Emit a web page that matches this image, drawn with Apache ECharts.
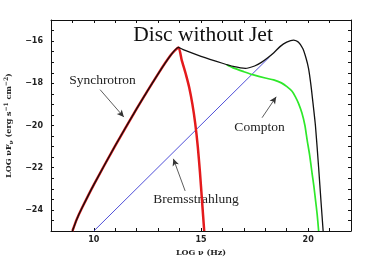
<!DOCTYPE html>
<html>
<head>
<meta charset="utf-8">
<script src="https://cdn.jsdelivr.net/npm/echarts@6/dist/echarts.min.js"></script>
<style>html,body{margin:0;padding:0;background:#fff;}#c{width:374px;height:263px;}</style>
</head>
<body>
<div id="c"></div>
<script>
// ---- data ----
const xTickLabels = [10, 15, 20];
const yTickLabels = [-16, -18, -20, -22, -24];

const syncX = [9.0, 9.2, 9.45, 10.0, 11.0, 12.0, 13.0, 13.6, 13.95, 14.1, 14.3, 14.45, 14.6, 14.73, 14.85, 14.95, 15.05, 15.15];
const syncY = [-25.0, -24.45, -23.9, -22.8, -20.95, -19.2, -17.55, -16.65, -16.3, -16.9, -17.6, -18.2, -19.0, -19.9, -21.0, -22.2, -23.6, -25.0];

const totalX = [9.0, 9.2, 9.45, 10.0, 11.0, 12.0, 13.0, 13.6, 13.95, 14.2, 15.0, 16.0, 16.5, 17.07, 17.5, 17.8, 18.1, 18.4, 18.7, 19.0, 19.32, 19.55, 19.75, 19.9, 20.02, 20.12, 20.2, 20.34, 20.49, 20.6, 20.7];
const totalY = [-25.0, -24.45, -23.9, -22.8, -20.95, -19.2, -17.55, -16.65, -16.3, -16.42, -16.72, -17.05, -17.2, -17.29, -17.18, -17.02, -16.8, -16.55, -16.25, -16.05, -15.95, -16.05, -16.35, -16.8, -17.3, -18.0, -18.7, -20.0, -22.0, -23.6, -25.0];

const comptonX = [16.2, 16.5, 17.0, 17.45, 18.0, 18.39, 18.75, 19.01, 19.25, 19.4, 19.55, 19.71, 19.85, 19.95, 20.07, 20.18, 20.27, 20.34, 20.42, 20.49];
const comptonY = [-17.12, -17.27, -17.45, -17.6, -17.75, -17.84, -17.98, -18.16, -18.38, -18.63, -18.95, -19.41, -20.0, -20.67, -21.4, -22.24, -22.9, -23.5, -24.2, -25.0];

const bremX = [10.0, 18.2];
const bremY = [-25.0, -16.75];

// annotation arrows (data coordinates: [fromX, fromY, toX, toY])
const arrowSync = [10.29, -18.3, 11.4, -19.6];
const arrowCompton = [17.85, -19.63, 18.51, -18.64];
const arrowBrems = [14.26, -23.1, 13.71, -21.58];

const pairs = (xs, ys) => xs.map((x, i) => [x, ys[i]]);
const arrowLine = a => [{coord: [a[0], a[1]]}, {coord: [a[2], a[3]]}];

const chart = echarts.init(document.getElementById('c'), null, {renderer: 'canvas'});

const tickFont = {fontFamily: 'DejaVu Sans', fontWeight: 'bold', fontSize: 8, color: '#222'};
const serif = 'Liberation Serif';

const xBase = {
  type: 'value', min: 8, max: 22, interval: 1,
  axisLine: {show: true, onZero: false, lineStyle: {color: '#111', width: 1}},
  axisTick: {show: true, inside: true, length: 3, lineStyle: {color: '#111'}},
  splitLine: {show: false}
};
const yBase = {
  type: 'value', min: -25, max: -15, interval: 0.5,
  axisLine: {show: true, onZero: false, lineStyle: {color: '#111', width: 1}},
  axisTick: {show: true, inside: true, length: 3, lineStyle: {color: '#111'}},
  splitLine: {show: false}
};

chart.setOption({
  animation: false,
  backgroundColor: '#fff',
  grid: {left: 51, right: 23, top: 20, bottom: 32, containLabel: false, outerBoundsMode: 'none'},
  xAxis: [
    Object.assign({}, xBase, {
      position: 'bottom',
      axisLabel: Object.assign({}, tickFont, {margin: 5,
        formatter: v => xTickLabels.includes(v) ? String(v) : ''}),
      name: 'LOG ν (Hz)', nameLocation: 'middle', nameGap: 15,
      nameTextStyle: {fontFamily: 'DejaVu Serif', fontWeight: 'bold', fontSize: 8, color: '#222'}
    }),
    Object.assign({}, xBase, {position: 'top', axisLabel: {show: false}})
  ],
  yAxis: [
    Object.assign({}, yBase, {
      position: 'left',
      axisLabel: Object.assign({}, tickFont, {margin: 8,
        formatter: v => yTickLabels.includes(v) ? '\u2212' + Math.abs(v) : ''}),
      name: '{n|LOG νF}{s|ν}{n| (erg s}{p|−1}{n| cm}{p|−2}{n|)}',
      nameLocation: 'middle', nameGap: 35,
      nameTextStyle: {
        rich: {
          n: {fontFamily: 'DejaVu Serif', fontWeight: 'bold', fontSize: 8, color: '#222'},
          s: {fontFamily: 'DejaVu Serif', fontWeight: 'bold', fontSize: 6, color: '#222', padding: [4, 0, 0, 0]},
          p: {fontFamily: 'DejaVu Serif', fontWeight: 'bold', fontSize: 6, color: '#222', padding: [0, 0, 5, 0]}
        }
      }
    }),
    Object.assign({}, yBase, {position: 'right', axisLabel: {show: false}})
  ],
  graphic: [
    {type: 'text', x: 203, y: 35, style: {text: 'Disc without Jet', fontFamily: serif, fontSize: 21.5, fill: '#111', textAlign: 'center', textVerticalAlign: 'middle'}},
    {type: 'text', x: 102.5, y: 80, style: {text: 'Synchrotron', fontFamily: serif, fontSize: 13.5, fill: '#222', textAlign: 'center', textVerticalAlign: 'middle'}},
    {type: 'text', x: 259.5, y: 127, style: {text: 'Compton', fontFamily: serif, fontSize: 13.5, fill: '#222', textAlign: 'center', textVerticalAlign: 'middle'}},
    {type: 'text', x: 196, y: 199, style: {text: 'Bremsstrahlung', fontFamily: serif, fontSize: 13.5, fill: '#222', textAlign: 'center', textVerticalAlign: 'middle'}}
  ],
  series: [
    {type: 'line', name: 'Bremsstrahlung', data: pairs(bremX, bremY), showSymbol: false, symbol: 'none',
     lineStyle: {color: '#5050d8', width: 1}, z: 2},
    {type: 'line', name: 'Synchrotron', data: pairs(syncX, syncY), showSymbol: false, symbol: 'none', smooth: 0.2,
     lineStyle: {color: '#e41a1c', width: 2.5}, z: 3},
    {type: 'line', name: 'Compton', data: pairs(comptonX, comptonY), showSymbol: false, symbol: 'none', smooth: 0.2,
     lineStyle: {color: '#2ee82a', width: 1.7}, z: 3},
    {type: 'line', name: 'Total', data: pairs(totalX, totalY), showSymbol: false, symbol: 'none', smooth: 0.2,
     lineStyle: {color: '#111', width: 1.3}, z: 4},
    {type: 'line', name: 'arrows', data: [], showSymbol: false, symbol: 'none', z: 5,
     markLine: {
       silent: true, symbol: ['none', 'arrow'], symbolSize: [5, 7],
       label: {show: false},
       lineStyle: {color: '#333', width: 0.8, type: 'solid'},
       data: [arrowLine(arrowSync), arrowLine(arrowCompton), arrowLine(arrowBrems)]
     }}
  ]
});
</script>
</body>
</html>
